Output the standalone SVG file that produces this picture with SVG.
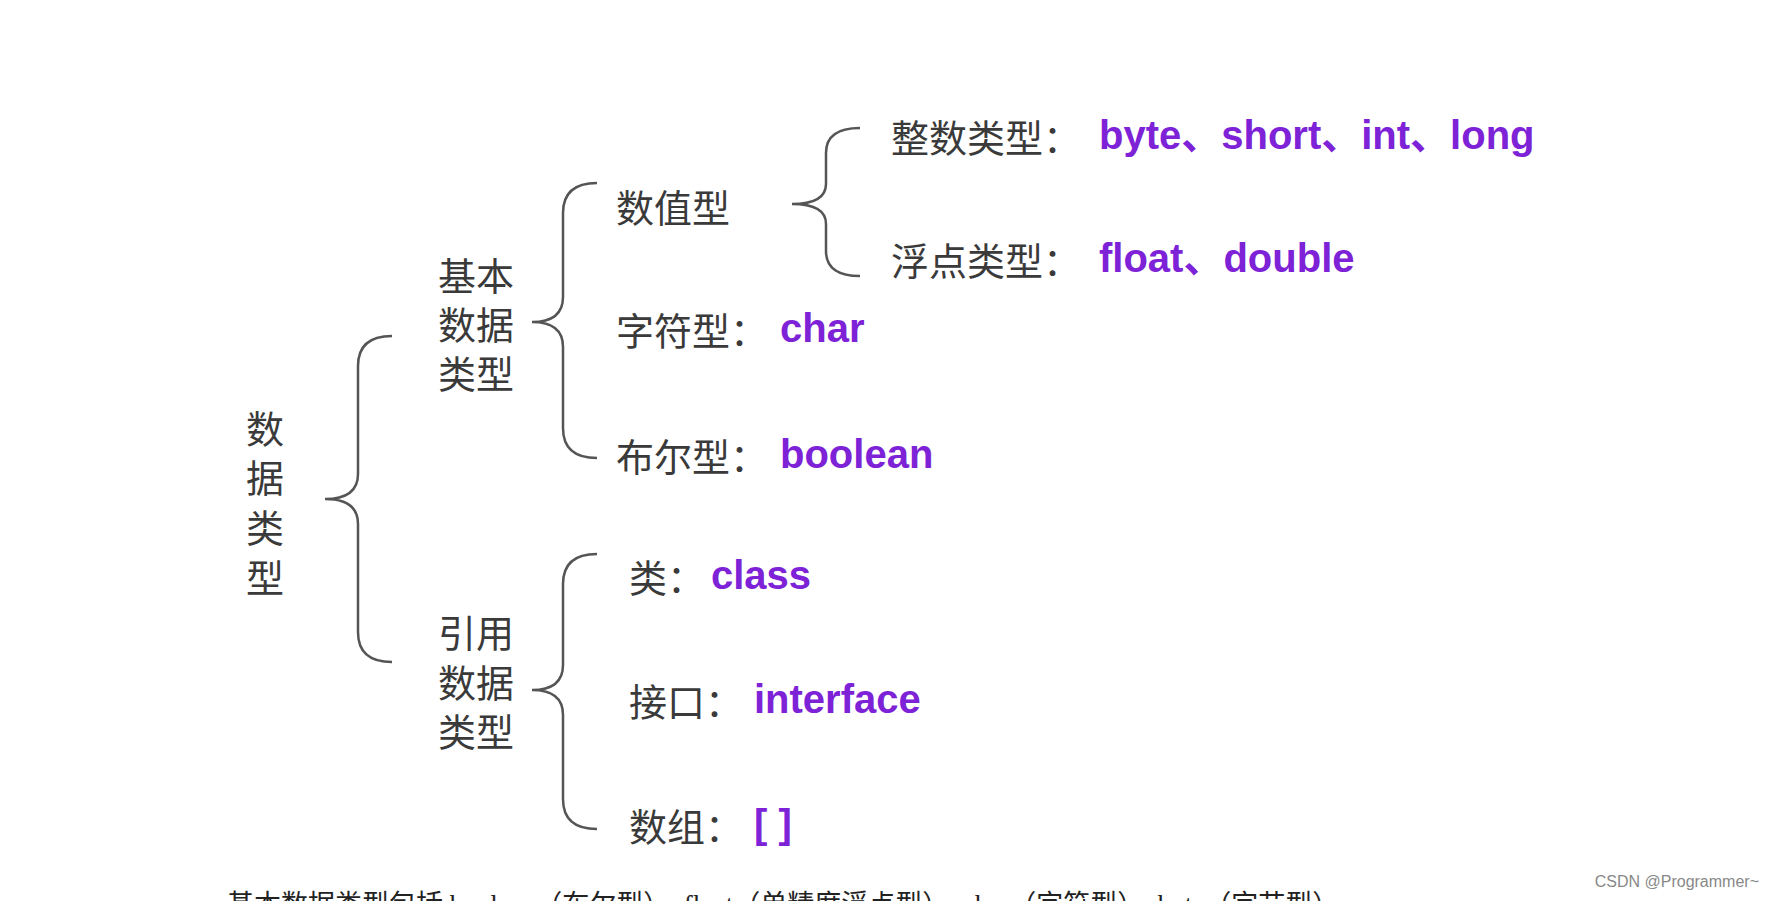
<svg xmlns="http://www.w3.org/2000/svg" width="1774" height="901" viewBox="0 0 1774 901">
<style>
.cn{font-family:"Noto Sans CJK SC","Liberation Sans",sans-serif;font-size:38px;fill:#3a3a3a;dominant-baseline:central}
.en{font-family:"Liberation Sans",Arial,"Noto Sans CJK SC",sans-serif;font-weight:bold;font-size:40px;fill:#7d22d6;dominant-baseline:central}
.br{fill:none;stroke:#555;stroke-width:2.5}
</style>
<rect width="1774" height="901" fill="#fff"/>
<g id="connectors">
<path class="br" d="M392,336 Q358,336 358,366 L358,474 Q358,499 325,499 Q358,499 358,524 L358,632 Q358,662 392,662"/>
<path class="br" d="M597,183 Q563,183 563,213 L563,297 Q563,322 532,322 Q563,322 563,347 L563,428 Q563,458 597,458"/>
<path class="br" d="M597,554 Q563,554 563,584 L563,665 Q563,690 532,690 Q563,690 563,715 L563,799 Q563,829 597,829"/>
<path class="br" d="M860,128 Q826,128 826,153 L826,184 Q826,204 792,204 Q826,204 826,224 L826,251 Q826,276 860,276"/>
</g>
<g id="root"><text class="cn" x="265" y="426" text-anchor="middle">数</text><text class="cn" x="265" y="475" text-anchor="middle">据</text><text class="cn" x="265" y="525" text-anchor="middle">类</text><text class="cn" x="265" y="575" text-anchor="middle">型</text></g>
<g id="basic"><text class="cn" x="438" y="273">基本</text><text class="cn" x="438" y="322">数据</text><text class="cn" x="438" y="371">类型</text></g>
<g id="ref"><text class="cn" x="438" y="630">引用</text><text class="cn" x="438" y="680">数据</text><text class="cn" x="438" y="729">类型</text></g>
<g id="numeric"><text class="cn" x="616" y="205">数值型</text></g>
<g id="int"><text class="cn" x="891" y="135">整数类型：</text><text class="en" x="1099" y="135">byte、short、int、long</text></g>
<g id="float"><text class="cn" x="891" y="258">浮点类型：</text><text class="en" x="1099" y="258">float、double</text></g>
<g id="char"><text class="cn" x="616" y="328">字符型：</text><text class="en" x="780" y="328">char</text></g>
<g id="bool"><text class="cn" x="616" y="454">布尔型：</text><text class="en" x="780" y="454">boolean</text></g>
<g id="class"><text class="cn" x="629" y="575">类：</text><text class="en" x="711" y="575">class</text></g>
<g id="interface"><text class="cn" x="629" y="699">接口：</text><text class="en" x="754" y="699">interface</text></g>
<g id="array"><text class="cn" x="629" y="824">数组：</text><text class="en" x="754" y="824">[ ]</text></g>
<text x="227" y="914" font-family="Liberation Serif,'Noto Sans CJK SC',serif" font-size="27" fill="#222">基本数据类型包括 boolean（布尔型）、float（单精度浮点型）、char（字符型）、byte（字节型）</text>
<text x="1759" y="887" text-anchor="end" font-family="Liberation Sans,sans-serif" font-size="16" fill="#888">CSDN @Programmer~</text>
</svg>
